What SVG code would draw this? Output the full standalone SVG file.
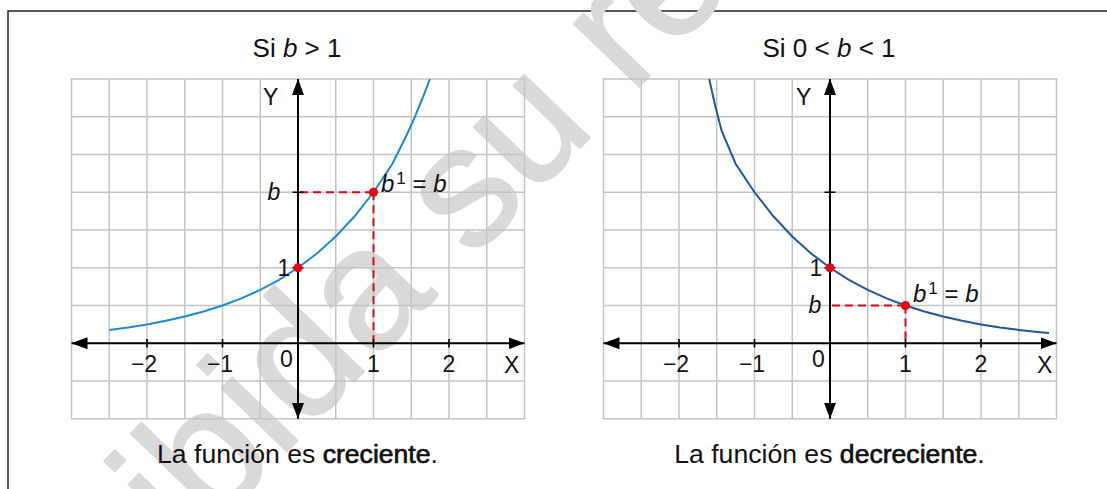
<svg xmlns="http://www.w3.org/2000/svg" width="1107" height="489" viewBox="0 0 1107 489">
<style>
.bg{fill:#ffffff}
.frame{fill:none;stroke:#222;stroke-width:1.5}
.wm{font-family:"Liberation Sans",Arial,sans-serif;font-size:172px;fill:#d9d9d9;stroke:#d9d9d9;stroke-width:2px;stroke-linejoin:round}
.grid{fill:none;stroke:#c4c4c4;stroke-width:1.5}
.axis{fill:none;stroke:#000;stroke-width:2}
.tick{fill:none;stroke:#000;stroke-width:1.6}
.dash{fill:none;stroke:#e30613;stroke-width:2;stroke-dasharray:8 5}
.dot{fill:#e30613}
.c1{fill:none;stroke:#1a8ad4;stroke-width:2}
.c2{fill:none;stroke:#1f56a2;stroke-width:2}
.t{font-family:"Liberation Sans",Arial,sans-serif;fill:#111}
.title{font-size:26px}
.lab{font-size:23px}
.eq{font-size:24px}
.cap{font-size:26.6px}
.b{stroke:#111;stroke-width:0.7px}
.it{font-style:italic}
</style>
<defs>
<marker id="arr" markerUnits="userSpaceOnUse" markerWidth="16" markerHeight="12" refX="16" refY="6" orient="auto-start-reverse" viewBox="0 0 16 12">
<path d="M0,0 L16,6 L0,12 Z" fill="#000"/>
</marker>
</defs>
<rect class="bg" x="0" y="0" width="1107" height="489"/>
<path class="frame" d="M8,489 V11 H1107"/>
<text class="wm" transform="translate(186,556) rotate(-46)">ibida su re</text>

<g id="graph-left">
<path class="grid" d="M71.5,79 H524.5 V418.75 H71.5 Z M109.25,79 V418.75 M147,79 V418.75 M184.75,79 V418.75 M222.5,79 V418.75 M260.25,79 V418.75 M298,79 V418.75 M335.75,79 V418.75 M373.5,79 V418.75 M411.25,79 V418.75 M449,79 V418.75 M486.75,79 V418.75 M71.5,116.75 H524.5 M71.5,154.5 H524.5 M71.5,192.25 H524.5 M71.5,230 H524.5 M71.5,267.75 H524.5 M71.5,305.5 H524.5 M71.5,343.25 H524.5 M71.5,381 H524.5"/>
<path class="dash" d="M300,192.25 H373.5 M373.5,192.25 V343.25"/>
<path class="axis" d="M71.5,343.25 H524.5" marker-start="url(#arr)" marker-end="url(#arr)"/>
<path class="axis" d="M298,418.75 V79" marker-start="url(#arr)" marker-end="url(#arr)"/>
<path class="tick" d="M147,339 V347.5 M222.5,339 V347.5 M373.5,339 V347.5 M449,339 V347.5 M292.5,192.25 H303.5 M292.5,267.75 H303.5"/>
<polyline class="c1" points="109.25,329.9 128.1,327.4 147,324.4 165.9,320.8 184.75,316.55 203.6,311.5 222.5,305.5 241.4,298.4 260.25,289.9 279.1,279.8 298,267.75 316.9,253.5 335.75,236.5 354.6,216.3 373.5,192.25 392.4,163.7 406.7,135 415,116.7 423,97 430,79"/>
<circle class="dot" cx="298" cy="267.75" r="4.6"/>
<circle class="dot" cx="373.5" cy="192.25" r="4.6"/>
<text class="t title" x="297" y="57" text-anchor="middle">Si <tspan class="it">b</tspan> &gt; 1</text>
<text class="t lab" x="263" y="105">Y</text>
<text class="t lab" x="504" y="373">X</text>
<text class="t lab it" x="274" y="200" text-anchor="middle">b</text>
<text class="t lab" x="284" y="276" text-anchor="middle">1</text>
<text class="t lab" x="286.5" y="367" text-anchor="middle">0</text>
<text class="t lab" x="144" y="372" text-anchor="middle">−2</text>
<text class="t lab" x="220" y="372" text-anchor="middle">−1</text>
<text class="t lab" x="373.5" y="372" text-anchor="middle">1</text>
<text class="t lab" x="449" y="372" text-anchor="middle">2</text>
<text class="t eq" x="381" y="192"><tspan class="it">b</tspan><tspan font-size="17" dx="2" dy="-8">1</tspan><tspan dy="8"> = </tspan><tspan class="it">b</tspan></text>
<text class="t cap" x="297.5" y="462.5" text-anchor="middle">La función es <tspan class="b">creciente</tspan>.</text>
</g>

<g id="graph-right">
<path class="grid" d="M603.5,79 H1056.5 V418.75 H603.5 Z M641.25,79 V418.75 M679,79 V418.75 M716.75,79 V418.75 M754.5,79 V418.75 M792.25,79 V418.75 M830,79 V418.75 M867.75,79 V418.75 M905.5,79 V418.75 M943.25,79 V418.75 M981,79 V418.75 M1018.75,79 V418.75 M603.5,116.75 H1056.5 M603.5,154.5 H1056.5 M603.5,192.25 H1056.5 M603.5,230 H1056.5 M603.5,267.75 H1056.5 M603.5,305.5 H1056.5 M603.5,343.25 H1056.5 M603.5,381 H1056.5"/>
<path class="dash" d="M832,305.5 H905.5 M905.5,305.5 V343.25"/>
<path class="axis" d="M603.5,343.25 H1056.5" marker-start="url(#arr)" marker-end="url(#arr)"/>
<path class="axis" d="M830,418.75 V79" marker-start="url(#arr)" marker-end="url(#arr)"/>
<path class="tick" d="M679,339 V347.5 M754.5,339 V347.5 M905.5,339 V347.5 M981,339 V347.5 M824.5,192.25 H835.5 M824.5,267.75 H835.5"/>
<polyline class="c2" points="709.2,79 715,105 721.7,131 735.6,163.7 754.5,192.25 773.4,216.3 792.25,236.5 811.1,253.5 830,267.75 848.9,279.8 867.75,289.9 886.6,298.4 905.5,305.5 924.4,311.5 943.25,316.55 962.1,320.8 981,324.4 999.9,327.4 1018.75,329.9 1037.6,332 1049,333.1"/>
<circle class="dot" cx="830" cy="267.75" r="4.6"/>
<circle class="dot" cx="905.5" cy="305.5" r="4.6"/>
<text class="t title" x="829" y="57" text-anchor="middle">Si 0 &lt; <tspan class="it">b</tspan> &lt; 1</text>
<text class="t lab" x="796" y="105">Y</text>
<text class="t lab" x="1037" y="373">X</text>
<text class="t lab" x="816" y="276" text-anchor="middle">1</text>
<text class="t lab it" x="815" y="313" text-anchor="middle">b</text>
<text class="t lab" x="818.5" y="367" text-anchor="middle">0</text>
<text class="t lab" x="676" y="372" text-anchor="middle">−2</text>
<text class="t lab" x="752" y="372" text-anchor="middle">−1</text>
<text class="t lab" x="905.5" y="372" text-anchor="middle">1</text>
<text class="t lab" x="981" y="372" text-anchor="middle">2</text>
<text class="t eq" x="913" y="302"><tspan class="it">b</tspan><tspan font-size="17" dx="2" dy="-8">1</tspan><tspan dy="8"> = </tspan><tspan class="it">b</tspan></text>
<text class="t cap" x="829.5" y="462.5" text-anchor="middle">La función es <tspan class="b">decreciente</tspan>.</text>
</g>
</svg>
